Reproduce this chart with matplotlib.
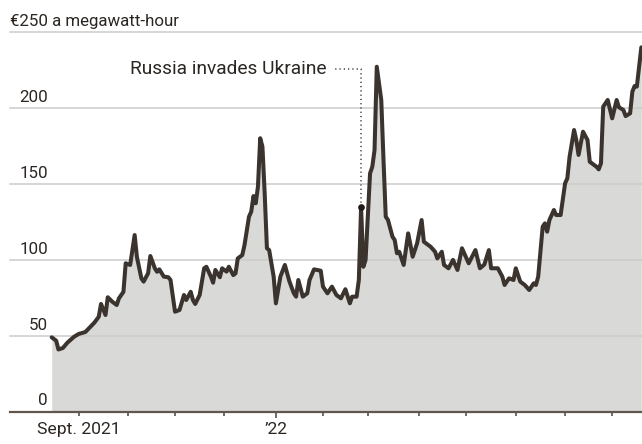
import numpy as np
import matplotlib
matplotlib.use("Agg")
import matplotlib.pyplot as plt

# European natural gas price, trading days (readings from the chart)
start_date = "2021-08-16"
dates = [
    "2021-08-16", "2021-08-18", "2021-08-19", "2021-08-23", "2021-08-25", "2021-08-30",
    "2021-09-01", "2021-09-06", "2021-09-08", "2021-09-10", "2021-09-14", "2021-09-15",
    "2021-09-17", "2021-09-20", "2021-09-22", "2021-09-24", "2021-09-27", "2021-09-29",
    "2021-09-30", "2021-10-04", "2021-10-06", "2021-10-07", "2021-10-11", "2021-10-12",
    "2021-10-14", "2021-10-15", "2021-10-19", "2021-10-20", "2021-10-21", "2021-10-25",
    "2021-10-27", "2021-10-28", "2021-11-01", "2021-11-03", "2021-11-05", "2021-11-08",
    "2021-11-10", "2021-11-11", "2021-11-12", "2021-11-16", "2021-11-18", "2021-11-19",
    "2021-11-23", "2021-11-24", "2021-11-25", "2021-11-29", "2021-11-30", "2021-12-02",
    "2021-12-03", "2021-12-07", "2021-12-08", "2021-12-09", "2021-12-13", "2021-12-14",
    "2021-12-16", "2021-12-17", "2021-12-20", "2021-12-21", "2021-12-22", "2021-12-23",
    "2021-12-24", "2021-12-27", "2021-12-28", "2021-12-29", "2021-12-31", "2022-01-03",
    "2022-01-05", "2022-01-07", "2022-01-11", "2022-01-13", "2022-01-14", "2022-01-17",
    "2022-01-19", "2022-01-21", "2022-01-24", "2022-01-26", "2022-01-31", "2022-02-01",
    "2022-02-03", "2022-02-07", "2022-02-09", "2022-02-11", "2022-02-15", "2022-02-17",
    "2022-02-18", "2022-02-22", "2022-02-23", "2022-02-24", "2022-02-25", "2022-02-28",
    "2022-03-02", "2022-03-03", "2022-03-04", "2022-03-07", "2022-03-09", "2022-03-10",
    "2022-03-11", "2022-03-14", "2022-03-16", "2022-03-17", "2022-03-18", "2022-03-21",
    "2022-03-23", "2022-03-25", "2022-03-28", "2022-03-29", "2022-03-31", "2022-04-04",
    "2022-04-05", "2022-04-08", "2022-04-12", "2022-04-13", "2022-04-15", "2022-04-18",
    "2022-04-20", "2022-04-22", "2022-04-26", "2022-04-28", "2022-05-02", "2022-05-03",
    "2022-05-06", "2022-05-10", "2022-05-12", "2022-05-16", "2022-05-17", "2022-05-20",
    "2022-05-24", "2022-05-25", "2022-05-27", "2022-05-31", "2022-06-01", "2022-06-03",
    "2022-06-07", "2022-06-09", "2022-06-13", "2022-06-14", "2022-06-15", "2022-06-17",
    "2022-06-20", "2022-06-21", "2022-06-22", "2022-06-24", "2022-06-27", "2022-06-29",
    "2022-07-01", "2022-07-04", "2022-07-05", "2022-07-07", "2022-07-08", "2022-07-11",
    "2022-07-13", "2022-07-15", "2022-07-18", "2022-07-20", "2022-07-21", "2022-07-22",
    "2022-07-25", "2022-07-26", "2022-07-28", "2022-08-01", "2022-08-03", "2022-08-04",
    "2022-08-08", "2022-08-09", "2022-08-11", "2022-08-12", "2022-08-15", "2022-08-16",
    "2022-08-18",
]
prices = [
    49, 46.8, 41, 42, 45.5, 49.4,
    51.2, 52.5, 55.6, 58.6, 62.6, 71,
    63.7, 75.4, 72.5, 70.3, 74.7, 79,
    97.8, 96.7, 116.4, 102, 87.9, 85.7,
    91.2, 102.6, 94.5, 92.2, 93.8, 89,
    88.6, 86.8, 65.9, 67, 76.9, 73.6,
    79, 73.6, 71, 76.9, 94.5, 95.5,
    89, 85, 93.4, 88.6, 94.5, 92.3,
    95.5, 90, 91.2, 101, 103.2, 109.8,
    128.5, 131.8, 142.1, 137.3, 148.3, 180.2,
    174.6, 143.9, 107.7, 106.5, 89, 71.4,
    89, 96.7, 86, 78, 75.8, 86.8,
    75.8, 78, 86.8, 93.8, 92.9, 82.4,
    78, 82.4, 76.9, 74.7, 80.7, 71.4,
    75.8, 75.8, 86.8, 134.7, 95.5, 100,
    157, 161.4, 172.4, 227.3, 205.4, 165.8,
    128.5, 126.3, 115.3, 113.1, 104.4, 105.4,
    96.7, 117.5, 110, 102.1, 111, 126.3,
    112, 108.7, 105.4, 101, 105.4, 96.7,
    94.5, 100, 93.4, 107.7, 101, 97.8,
    106.5, 94.5, 97, 106.5, 94.5, 94.5,
    89, 83.5, 87.9, 86.8, 94.5, 85.7,
    83.5, 80.2, 84.6, 83.5, 89, 121.9,
    124.1, 118.6, 126.3, 132.9, 129.6, 129.6,
    150.5, 153.8, 168, 185.6, 179, 169.2,
    184.5, 179, 164.7, 162.5, 161.4, 159.7,
    163.7, 201, 205.4, 193.3, 205.4, 200.6,
    198.8, 194.8, 196.6, 210.9, 214.6, 214.2,
    240.1,
]

tick_months = ["2021-09", "2021-10", "2021-11", "2021-12", "2022-01", "2022-02",
               "2022-03", "2022-04", "2022-05", "2022-06", "2022-07", "2022-08"]
tick_labels = ["Sept. 2021", "", "", "", "\u201922", "", "", "", "", "", "", ""]
y_levels = [0, 50, 100, 150, 200, 250]
y_labels = ["0", "50", "100", "150", "200", "\u20ac250 a megawatt-hour"]
event_date = "2022-02-24"
event_label = "Russia invades Ukraine"

plt.rcParams["font.family"] = ["Roboto", "DejaVu Sans"]

line_color = "#3a332e"
fill_color = "#d9d9d7"
grid_color = "#cbcbcb"
text_color = "#2b2622"

# x position = trading days since the first reading
x = np.busday_count(start_date, dates)
tick_x = np.busday_count(start_date, np.busday_offset(
    np.array(tick_months, dtype="datetime64[M]").astype("datetime64[D]"), 0, roll="forward"))

fig = plt.figure(figsize=(6.42, 4.44), dpi=100)
ax = fig.add_axes([10 / 642, 32.3 / 444, 632 / 642, 379.4 / 444])
ax.set_xlim(-18.6, 263.3)
ax.set_ylim(0, 250)
for s in ax.spines.values():
    s.set_visible(False)
ax.set_yticks([])

ax.fill_between(x, prices, 0, color=fill_color, lw=0, zorder=1)
for v in y_levels[1:]:
    ax.axhline(v, color=grid_color, lw=1.1, zorder=2, clip_on=False)
ax.axhline(0, color="#5e564f", lw=1.6, zorder=4, clip_on=False)
ax.plot(x, prices, color=line_color, lw=2.9, solid_joinstyle="round",
        solid_capstyle="round", zorder=3, clip_on=False)

# y labels sit just above their gridlines
for v, lab in zip(y_levels, y_labels):
    if v == 250:
        ax.annotate(lab, xy=(0, v), xycoords=("axes fraction", "data"),
                    xytext=(0, 4.5), textcoords="offset points",
                    ha="left", va="baseline", fontsize=12.2, color=text_color)
    else:
        ax.annotate(lab, xy=(0, v), xycoords=("axes fraction", "data"),
                    xytext=(27.4, 4.5), textcoords="offset points",
                    ha="right", va="baseline", fontsize=12.2, color=text_color)

ax.set_xticks(tick_x)
ax.set_xticklabels(tick_labels, fontsize=12.6, color=text_color)
ax.tick_params(axis="x", length=2.6, width=1.1, color="#4a433d", pad=5)
ax.xaxis.get_major_ticks()[4].tick1line.set_markersize(4.4)

# invasion annotation
ex = np.busday_count(start_date, event_date)
ev = prices[dates.index(event_date)]
top = 226
ax.plot([ex, ex, ex - 12], [ev, top, top], color="#3d3d3d", lw=1.1,
        ls=(0, (0.8, 2.0)), zorder=3)
ax.plot([ex], [ev], "o", color="#1f1a17", ms=3.8, zorder=5)
ax.text(ex - 15.5, top, event_label, ha="right", va="center",
        fontsize=13.8, color=text_color)

fig.savefig("out.png", dpi=100)
